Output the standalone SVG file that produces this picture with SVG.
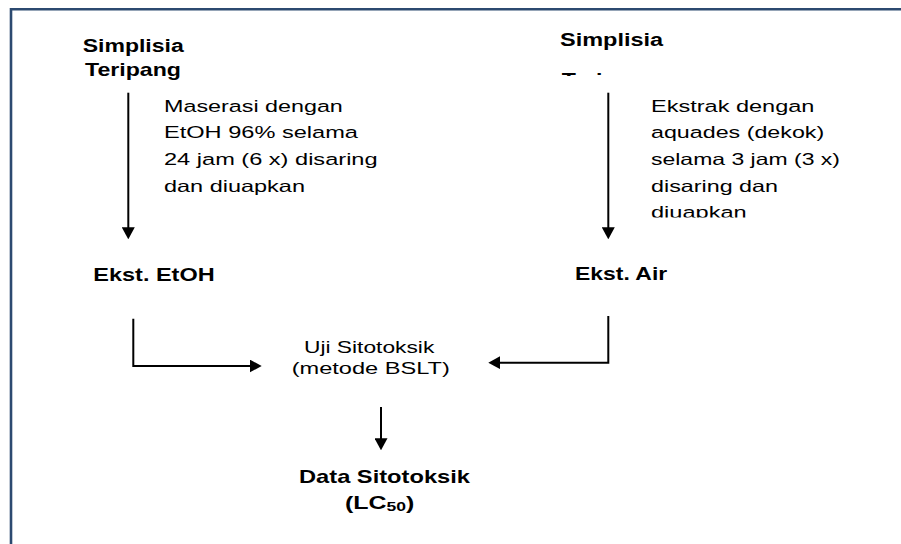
<svg xmlns="http://www.w3.org/2000/svg" width="901" height="544" viewBox="0 0 901 544">
<style>
text{font-family:"Liberation Sans",Arial,sans-serif;fill:#000}
.b{font-weight:bold;font-size:18.5px}
.r{font-size:16.5px}
.ln{fill:none;stroke:#000;stroke-width:2}
</style>
<defs>
<marker id="ah" markerUnits="userSpaceOnUse" viewBox="0 0 12 13" markerWidth="12" markerHeight="13" refX="6" refY="6.5" orient="auto">
<path d="M0,0 L12,6.5 L0,13 Z" fill="#000"/>
</marker>
<clipPath id="clipT"><rect x="540" y="60" width="200" height="16"/></clipPath>
<clipPath id="clipD"><rect x="640" y="195" width="200" height="22.5"/></clipPath>
</defs>
<path d="M11,544 V9.3 H901" fill="none" stroke="#2c4a70" stroke-width="2.6"/>
<g id="simplisia-teripang">
<text class="b" transform="translate(82.7,52) scale(1.245,1)">Simplisia</text>
<text class="b" transform="translate(85,76) scale(1.25,1)">Teripang</text>
</g>
<g id="label-maserasi">
<text class="r" transform="translate(164,111.7) scale(1.414,1)">Maserasi dengan</text>
<text class="r" transform="translate(164,138.3) scale(1.43,1)">EtOH 96% selama</text>
<text class="r" transform="translate(164,165) scale(1.43,1)">24 jam (6 x) disaring</text>
<text class="r" transform="translate(164,191.7) scale(1.423,1)">dan diuapkan</text>
</g>
<g id="simplisia-2">
<text class="b" transform="translate(560,45.7) scale(1.27,1)">Simplisia</text>
<g clip-path="url(#clipT)">
<text class="b" transform="translate(561.7,86) scale(1.25,1)">Teripang</text>
</g>
</g>
<g id="label-ekstrak">
<text class="r" transform="translate(651,111.7) scale(1.426,1)">Ekstrak dengan</text>
<text class="r" transform="translate(651,138.3) scale(1.41,1)">aquades (dekok)</text>
<text class="r" transform="translate(651,165) scale(1.393,1)">selama 3 jam (3 x)</text>
<text class="r" transform="translate(651,191.7) scale(1.413,1)">disaring dan</text>
<g clip-path="url(#clipD)">
<text class="r" transform="translate(651,218.3) scale(1.43,1)">diuapkan</text>
</g>
</g>
<g id="ekst-etoh">
<text class="b" transform="translate(93.3,280.5) scale(1.27,1)">Ekst. EtOH</text>
</g>
<g id="ekst-air">
<text class="b" transform="translate(575,280) scale(1.24,1)">Ekst. Air</text>
</g>
<g id="uji-sitotoksik">
<text class="r" transform="translate(304,353.3) scale(1.38,1)">Uji Sitotoksik</text>
<text class="r" transform="translate(291.7,373.5) scale(1.43,1)">(metode BSLT)</text>
</g>
<g id="data-sitotoksik">
<text class="b" transform="translate(299,482.7) scale(1.28,1)">Data Sitotoksik</text>
<text class="b" text-anchor="middle" transform="translate(379.7,508.7) scale(1.35,1)">(LC<tspan font-size="13" dy="2">50</tspan><tspan dy="-2">)</tspan></text>
</g>
<g id="connectors">
<path class="ln" d="M128.3,92.7 V233.3" marker-end="url(#ah)"/>
<path class="ln" d="M608.3,92.7 V233.3" marker-end="url(#ah)"/>
<path class="ln" d="M133.3,318.7 V366 H255.7" marker-end="url(#ah)"/>
<path class="ln" d="M608.3,316 V362.7 H494.3" marker-end="url(#ah)"/>
<path class="ln" d="M381,407 V444.3" marker-end="url(#ah)"/>
</g>
</svg>
